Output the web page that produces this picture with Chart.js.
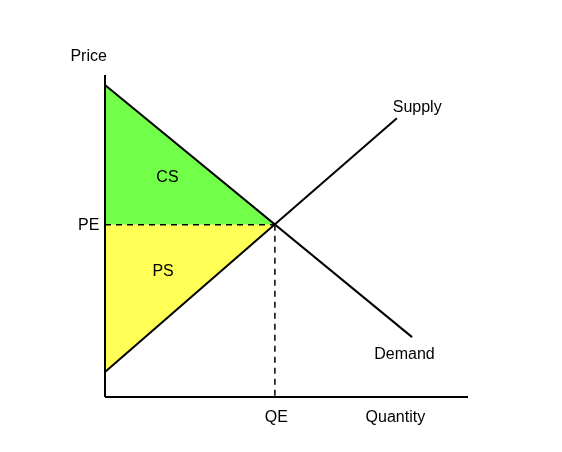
<!DOCTYPE html>
<html><head><meta charset="utf-8">
<script src="https://cdn.jsdelivr.net/npm/chart.js@4"></script>
<style>html,body{margin:0;padding:0;background:#fff}#w{width:562px;height:452px}</style>
</head><body><div id="w"><canvas id="c"></canvas></div>
<script>
const demand = [{x:0,y:9.69},{x:8.46,y:1.86}];
const supply = [{x:0,y:0.78},{x:8.04,y:8.66}];
const equilibrium = {x:4.68,y:5.35};
const peLine = [{x:0,y:5.35},{x:4.68,y:5.35}];
const qeLine = [{x:4.68,y:5.35},{x:4.68,y:0}];
const csArea = [{x:0,y:9.69},{x:0,y:5.35},{x:4.68,y:5.35}];
const psArea = [{x:0,y:5.35},{x:4.68,y:5.35},{x:0,y:0.78}];
const labels = [
 {t:'Price',x:-0.45,y:10.58},{t:'Supply',x:8.6,y:9.0},{t:'Demand',x:8.25,y:1.33},
 {t:'CS',x:1.72,y:6.8},{t:'PS',x:1.6,y:3.9},{t:'PE',x:-0.45,y:5.33},
 {t:'QE',x:4.72,y:-0.65},{t:'Quantity',x:8.0,y:-0.65}
];
const plug={id:'p',
 beforeDatasetsDraw(ch){const c=ch.ctx,X=ch.scales.x,Y=ch.scales.y;
  [[csArea,'#72ff4a'],[psArea,'#ffff55']].forEach(([a,col])=>{c.save();c.beginPath();
   a.forEach((p,i)=>{const px=X.getPixelForValue(p.x),py=Y.getPixelForValue(p.y);i?c.lineTo(px,py):c.moveTo(px,py);});
   c.closePath();c.fillStyle=col;c.fill();c.restore();});},
 afterDatasetsDraw(ch){const c=ch.ctx,X=ch.scales.x,Y=ch.scales.y;c.save();
  c.font='16px "Liberation Sans", Arial, sans-serif';c.fillStyle='#000';c.textAlign='center';c.textBaseline='middle';
  labels.forEach(l=>c.fillText(l.t,X.getPixelForValue(l.x),Y.getPixelForValue(l.y)));c.restore();}};
const ln=(d,extra)=>Object.assign({data:d,borderColor:'#000',borderWidth:2,pointRadius:0,fill:false,clip:false,tension:0},extra||{});
new Chart(document.getElementById('c'),{type:'line',
 data:{datasets:[
  ln(demand),ln(supply),
  ln(peLine,{borderDash:[6,5],borderWidth:1.5}),ln(qeLine,{borderDash:[6,5],borderWidth:1.5}),
  ln([{x:0,y:10},{x:0,y:0}]),ln([{x:0,y:0},{x:10,y:0}])
 ]},
 options:{responsive:true,maintainAspectRatio:false,animation:false,
  layout:{padding:{left:105,top:75,right:94,bottom:55}},
  plugins:{legend:{display:false},tooltip:{enabled:false}},
  scales:{x:{type:'linear',min:0,max:10,display:false},y:{type:'linear',min:0,max:10,display:false}}},
 plugins:[plug]});
</script></body></html>
